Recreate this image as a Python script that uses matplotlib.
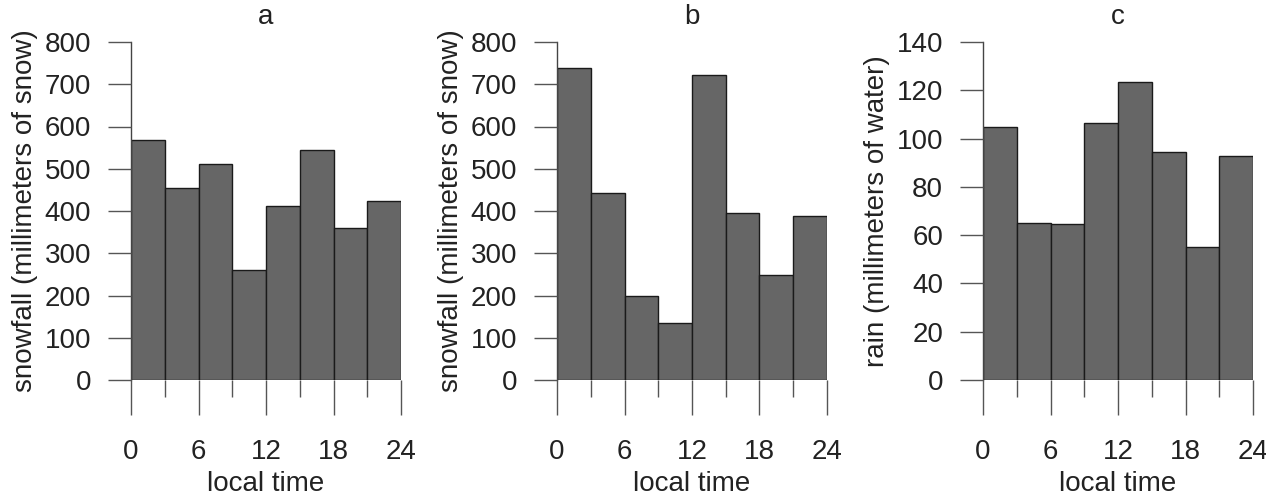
import matplotlib
matplotlib.use("Agg")
import matplotlib.pyplot as plt
import numpy as np

plt.rcParams['font.family'] = ['Liberation Sans', 'DejaVu Sans']

bin_edges = [0, 3, 6, 9, 12, 15, 18, 21, 24]
major_ticks = [0, 6, 12, 18, 24]
minor_ticks = [3, 9, 15, 21]

snow_a = [568, 455, 511, 260, 412, 545, 360, 423]
snow_b = [738, 442, 200, 136, 721, 396, 249, 387]
rain_c = [104.7, 64.9, 64.5, 106.3, 123.6, 94.6, 55, 92.8]

titles = ['a', 'b', 'c']
ylabels = ['snowfall (millimeters of snow)', 'snowfall (millimeters of snow)',
           'rain (millimeters of water)']
yticks_list = [list(range(0, 801, 100)), list(range(0, 801, 100)), list(range(0, 141, 20))]
series = [snow_a, snow_b, rain_c]

W, H = 1266, 497
fig = plt.figure(figsize=(W / 100, H / 100), dpi=100)

lefts = [131, 557, 983]
rights = [401, 827, 1253]
top_px, bot_px = 42, 380

px = 0.72  # points per pixel at dpi 100
fs = 20

for i in range(3):
    ax = fig.add_axes([lefts[i] / W, 1 - bot_px / H, (rights[i] - lefts[i]) / W, (bot_px - top_px) / H])
    widths = np.diff(bin_edges)
    ax.bar(bin_edges[:-1], series[i], width=widths, align='edge',
           color='#666666', edgecolor='#1a1a1a', linewidth=1.0)
    ax.set_xlim(0, 24)
    yt = yticks_list[i]
    ax.set_ylim(yt[0], yt[-1])
    ax.set_yticks(yt)
    ax.set_yticklabels([str(v) for v in yt])
    ax.set_xticks(major_ticks)
    ax.set_xticklabels([str(v) for v in major_ticks])
    ax.set_xticks(minor_ticks, minor=True)
    for s in ['top', 'right', 'bottom']:
        ax.spines[s].set_visible(False)
    ax.spines['left'].set_color('#444444')
    ax.spines['left'].set_linewidth(1.0)
    ax.tick_params(axis='y', direction='out', length=23 * px, width=1.0, color='#555555',
                   pad=17 * px, labelsize=fs, labelcolor='#222222')
    ax.tick_params(axis='x', which='major', direction='out', length=35 * px, width=1.0,
                   color='#555555', pad=24 * px, labelsize=fs, labelcolor='#222222')
    ax.tick_params(axis='x', which='minor', direction='out', length=17 * px, width=1.0,
                   color='#555555')
    ax.set_title(titles[i], fontsize=fs, color='#222222', pad=13)
    ax.set_xlabel('local time', fontsize=fs, color='#222222', labelpad=4)
    ax.set_ylabel(ylabels[i], fontsize=fs, color='#222222', labelpad=5)
    ax.set_axisbelow(False)

fig.savefig('out.png', dpi=100)
